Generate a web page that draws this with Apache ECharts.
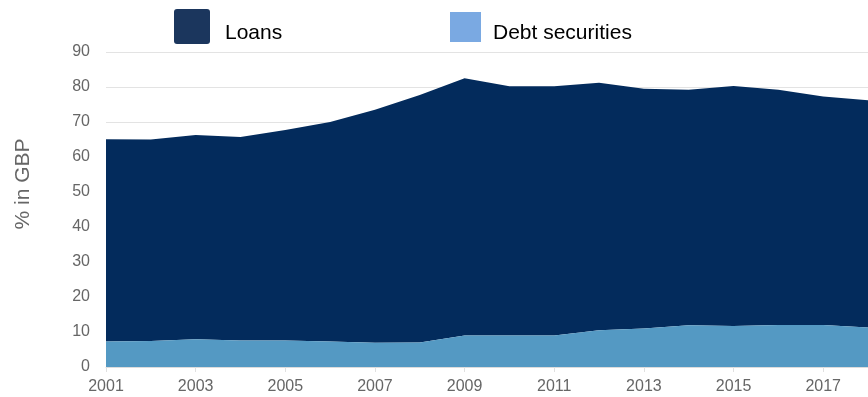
<!DOCTYPE html>
<html>
<head>
<meta charset="utf-8">
<script src="https://cdn.jsdelivr.net/npm/echarts@6/dist/echarts.min.js"></script>
<style>
  html, body { margin: 0; padding: 0; background: #fff; }
  #chart { width: 868px; height: 397px; }
</style>
</head>
<body>
<div id="chart"></div>
<script>
// Years on the horizontal axis
const years = ['2001','2002','2003','2004','2005','2006','2007','2008','2009',
               '2010','2011','2012','2013','2014','2015','2016','2017','2018'];

// Share held as debt securities (% in GBP), bottom layer
const debtSecurities = [7.3, 7.4, 7.9, 7.6, 7.6, 7.3, 6.9, 7.0, 9.0,
                        9.0, 9.0, 10.5, 11.0, 11.9, 11.7, 12.0, 12.0, 11.3];

// Share held as loans (% in GBP), stacked on top
const loans = [57.8, 57.6, 58.4, 58.1, 60.1, 62.7, 66.6, 70.7, 73.5,
               71.2, 71.2, 70.7, 68.5, 67.3, 68.6, 67.2, 65.3, 64.9];

const yTicks = { min: 0, max: 90, interval: 10 };

const chart = echarts.init(document.getElementById('chart'), null, { renderer: 'canvas' });

const font = 'Helvetica, Arial, "Liberation Sans", sans-serif';

// Square swatch with slightly rounded corners
const softSquare = 'path://M3,0 H33 Q36,0 36,3 V32 Q36,35 33,35 H3 Q0,35 0,32 V3 Q0,0 3,0 Z';

chart.setOption({
  animation: false,
  backgroundColor: '#ffffff',
  legend: [
    {
      left: 169, top: 4,
      itemWidth: 36, itemHeight: 35,
      icon: softSquare,
      formatter: '{t|{name}}',
      textStyle: {
        rich: { t: { fontFamily: font, fontSize: 21, color: '#000', padding: [14, 0, 0, 10] } }
      },
      data: [{ name: 'Loans', itemStyle: { color: '#1b365d' } }],
      selectedMode: false
    },
    {
      left: 445, top: 7,
      itemWidth: 31, itemHeight: 30,
      icon: 'rect',
      formatter: '{t|{name}}',
      textStyle: {
        rich: { t: { fontFamily: font, fontSize: 21, color: '#000', padding: [12, 0, 0, 7] } }
      },
      data: [{ name: 'Debt securities', itemStyle: { color: '#7aa9e2' } }],
      selectedMode: false
    }
  ],
  graphic: [
    {
      type: 'text',
      x: 23, y: 184,
      rotation: Math.PI / 2,
      style: {
        text: '% in GBP',
        fill: '#666',
        font: '21px ' + font,
        align: 'center',
        verticalAlign: 'middle'
      }
    }
  ],
  grid: { left: 106, right: -15, top: 52, bottom: 30, containLabel: false },
  xAxis: {
    type: 'category',
    data: years,
    boundaryGap: false,
    axisLine: { lineStyle: { color: '#dcdcdc' } },
    axisTick: { show: true, interval: 1, length: 5, lineStyle: { color: '#e0e0e0' } },
    axisLabel: { interval: 1, color: '#666', fontFamily: font, fontSize: 16, margin: 12 },
    splitLine: { show: false }
  },
  yAxis: {
    type: 'value',
    min: yTicks.min, max: yTicks.max, interval: yTicks.interval,
    axisLine: { show: false },
    axisTick: { show: false },
    axisLabel: { color: '#666', fontFamily: font, fontSize: 16, margin: 16 },
    splitLine: { lineStyle: { color: '#e3e3e3', width: 1 } }
  },
  series: [
    {
      name: 'Debt securities',
      type: 'line',
      stack: 'total',
      data: debtSecurities,
      symbol: 'none',
      lineStyle: { width: 0 },
      areaStyle: { color: '#5499c3', opacity: 1 },
      itemStyle: { color: '#5499c3' },
      z: 3
    },
    {
      name: 'Loans',
      type: 'line',
      stack: 'total',
      data: loans,
      symbol: 'none',
      lineStyle: { width: 0 },
      areaStyle: { color: '#032b5c', opacity: 1 },
      itemStyle: { color: '#032b5c' },
      z: 2
    }
  ]
});
</script>
</body>
</html>
